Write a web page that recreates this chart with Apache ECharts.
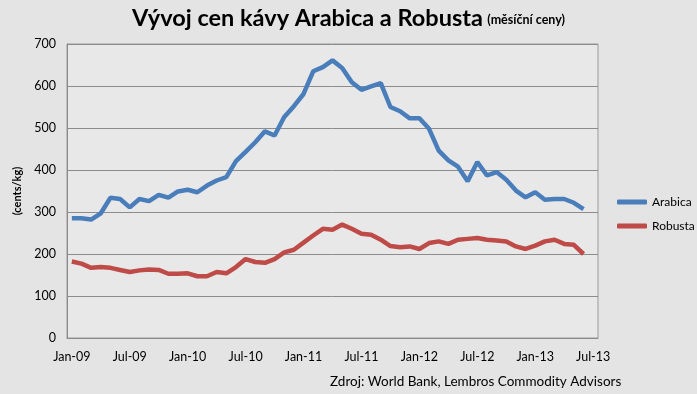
<!DOCTYPE html>
<html>
<head>
<meta charset="utf-8">
<script src="https://cdn.jsdelivr.net/npm/echarts@6/dist/echarts.min.js"></script>
<style>
html,body{margin:0;padding:0;background:#e4e4e4;}
#c{width:697px;height:394px;}
</style>
</head>
<body>
<div id="c"></div>
<script>
var categories = [
 'Jan-09','Feb-09','Mar-09','Apr-09','May-09','Jun-09','Jul-09','Aug-09','Sep-09','Oct-09','Nov-09','Dec-09',
 'Jan-10','Feb-10','Mar-10','Apr-10','May-10','Jun-10','Jul-10','Aug-10','Sep-10','Oct-10','Nov-10','Dec-10',
 'Jan-11','Feb-11','Mar-11','Apr-11','May-11','Jun-11','Jul-11','Aug-11','Sep-11','Oct-11','Nov-11','Dec-11',
 'Jan-12','Feb-12','Mar-12','Apr-12','May-12','Jun-12','Jul-12','Aug-12','Sep-12','Oct-12','Nov-12','Dec-12',
 'Jan-13','Feb-13','Mar-13','Apr-13','May-13','Jun-13','Jul-13'
];
var arabica = [
 285,285,282,297,334,331,311,331,326,341,334,349,
 353,347,363,375,383,421,443,466,492,482,526,552,
 581,635,645,661,643,609,591,599,607,550,540,523,
 523,498,446,423,408,373,419,387,395,377,351,335,
 347,329,331,331,322,307
];
var robusta = [
 182,177,167,169,167,162,157,161,163,162,153,153,
 154,147,147,157,154,169,188,181,179,188,204,210,
 227,244,260,258,270,260,248,246,234,219,216,218,
 212,226,230,224,234,236,238,234,232,230,218,212,
 220,230,234,224,222,200
];
var yTicks = {min:0, max:700, interval:100};
var titleMain = 'Vývoj cen kávy Arabica a Robusta';
var titleSub = '(měsíční ceny)';
var yName = '(cents/kg)';
var sourceText = 'Zdroj: World Bank, Lembros Commodity Advisors';

var chart = echarts.init(document.getElementById('c'), null, {renderer:'canvas'});
var font = 'Lato, "Open Sans", sans-serif';
chart.setOption({
  backgroundColor:'#e4e4e4',
  animation:false,
  textStyle:{fontFamily:font},
  title:{
    text:'{a|'+titleMain+'} {b|'+titleSub+'}',
    left:'center', top:1,
    textStyle:{
      rich:{
        a:{fontFamily:font,fontWeight:'bold',fontSize:23.5,color:'#000'},
        b:{fontFamily:font,fontWeight:'bold',fontSize:12.5,color:'#000',padding:[4,0,0,0]}
      }
    }
  },
  grid:{left:67,right:99,top:44,bottom:56,show:true,backgroundColor:'#e8e8e8',borderColor:'#9a9a9a',borderWidth:1},
  legend:{
    orient:'vertical', left:617, top:196, padding:0,
    icon:'roundRect',
    itemWidth:30, itemHeight:5, itemGap:12,
    textStyle:{fontFamily:font,fontSize:12,color:'#000'},
    data:['Arabica','Robusta']
  },
  xAxis:{
    type:'category', data:categories, boundaryGap:true,
    axisTick:{show:false},
    axisLine:{show:true,lineStyle:{color:'#8a8a8a',width:1}},
    axisLabel:{interval:5,color:'#000',fontSize:12.5,margin:12,fontFamily:font}
  },
  yAxis:{
    type:'value', min:yTicks.min, max:yTicks.max, interval:yTicks.interval,
    name:yName, nameLocation:'middle', nameRotate:90, nameGap:43,
    nameTextStyle:{fontFamily:font,fontWeight:'bold',fontSize:11,color:'#000'},
    axisLine:{show:true,lineStyle:{color:'#8a8a8a',width:1}},
    axisTick:{show:false},
    axisLabel:{color:'#000',fontSize:12.5,margin:11,fontFamily:font},
    splitLine:{show:true,lineStyle:{color:'#8c8c8c',width:1}}
  },
  series:[
    {name:'Arabica',type:'line',data:arabica,symbol:'none',
     lineStyle:{width:4.5,color:'#4a7ebb'},itemStyle:{color:'#4a7ebb'}},
    {name:'Robusta',type:'line',data:robusta,symbol:'none',
     lineStyle:{width:4.5,color:'#be4b48'},itemStyle:{color:'#be4b48'}}
  ],
  graphic:[
    {type:'text',left:330,top:375,style:{text:sourceText,font:'13.5px '+font,fill:'#000'}}
  ]
});
</script>
</body>
</html>
